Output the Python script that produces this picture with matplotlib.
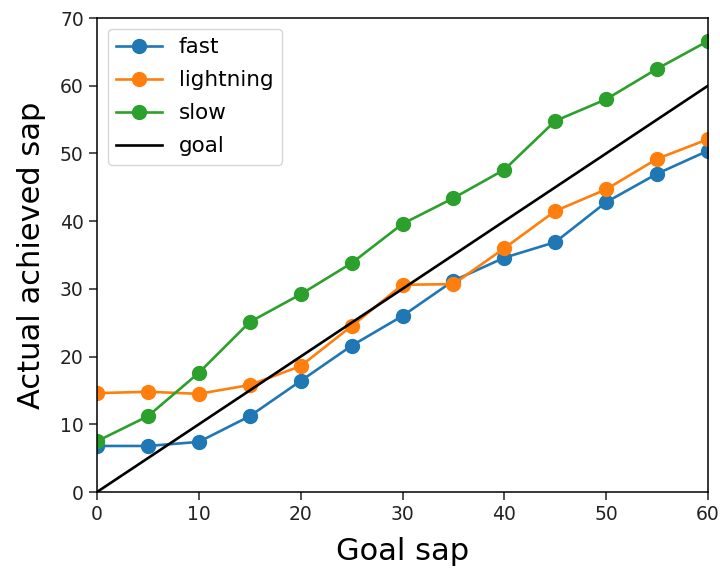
import matplotlib.pyplot as plt
import numpy as np

goal_sap = [0, 5, 10, 15, 20, 25, 30, 35, 40, 45, 50, 55, 60]
fast = [6.8, 6.8, 7.4, 11.2, 16.4, 21.6, 26.0, 31.2, 34.6, 36.9, 42.8, 47.0, 50.4]
lightning = [14.6, 14.8, 14.5, 15.8, 18.6, 24.5, 30.6, 30.7, 36.0, 41.5, 44.7, 49.2, 52.1]
slow = [7.5, 11.2, 17.6, 25.1, 29.2, 33.8, 39.6, 43.4, 47.6, 54.8, 58.0, 62.5, 66.6]
goal = [0, 60]

fig = plt.figure(figsize=(7.2, 5.69), dpi=100)
ax = fig.add_axes((97 / 720, 1 - 492 / 569, 611 / 720, 474 / 569))

ax.plot(goal_sap, fast, marker='o', markersize=10, linewidth=1.9, label='fast')
ax.plot(goal_sap, lightning, marker='o', markersize=10, linewidth=1.9, label='lightning')
ax.plot(goal_sap, slow, marker='o', markersize=10, linewidth=1.9, label='slow')
ax.plot(goal, goal, color='black', linewidth=1.9, label='goal')

ax.set_xlim(0, 60)
ax.set_ylim(0, 70)
ax.tick_params(labelsize=13.5, length=6, width=1.1, colors='#222222')
for s in ax.spines.values():
    s.set_linewidth(1.1)
ax.set_xlabel('Goal sap', fontsize=22, labelpad=9)
ax.set_ylabel('Actual achieved sap', fontsize=22, labelpad=10)
ax.legend(fontsize=15.5, loc='upper left', handlelength=2.1, labelspacing=0.6)

fig.savefig('out.png', dpi=100)
